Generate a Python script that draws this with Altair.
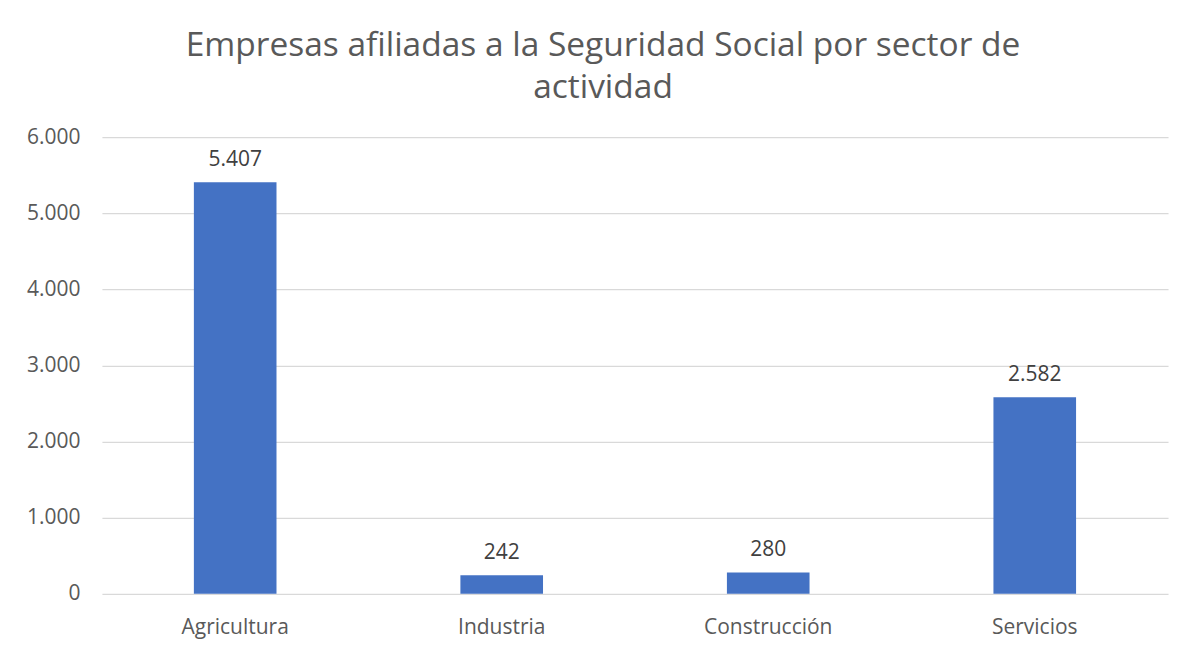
import altair as alt
import pandas as pd

sectors = ["Agricultura", "Industria", "Construcción", "Servicios"]
empresas = [5407, 242, 280, 2582]

df = pd.DataFrame({"sector": sectors, "empresas": empresas})

fmt = "replace(format(datum.value, ','), ',', '.')"
FONT = "Open Sans"
FS = 21

base = alt.Chart(df).encode(
    x=alt.X("sector:N", sort=sectors, title=None,
            scale=alt.Scale(paddingInner=0.69, paddingOuter=0.345),
            axis=alt.Axis(labelAngle=0, labelFontSize=FS, labelColor="#595959",
                          labelFont=FONT, ticks=False, domain=False,
                          labelPadding=23, grid=False)),
    y=alt.Y("empresas:Q", title=None,
            scale=alt.Scale(domain=[0, 6000], nice=False),
            axis=alt.Axis(values=[0, 1000, 2000, 3000, 4000, 5000, 6000],
                          labelExpr=fmt, labelFontSize=FS, labelColor="#595959",
                          labelFont=FONT, ticks=False, domain=False,
                          labelPadding=22, gridColor="#d9d9d9", gridWidth=1.3)),
)

bars = base.mark_bar(color="#4472C4")
labels = base.transform_calculate(
    lbl="replace(format(datum.empresas, ','), ',', '.')"
).mark_text(baseline="alphabetic", dy=-16, fontSize=FS, color="#404040",
            font=FONT).encode(text="lbl:N")

chart = (bars + labels).properties(
    width=1067, height=457,
    padding={"left": 94, "top": 129, "right": 20, "bottom": 60},
    autosize=alt.AutoSizeParams(type="none"),
    title=alt.Title(["Empresas afiliadas a la Seguridad Social por sector de", "actividad"],
                    font=FONT, fontSize=33.5, fontWeight="normal", color="#595959",
                    anchor="middle", dx=-32, offset=21, lineHeight=42),
).configure(background="white").configure_view(stroke=None)

chart.save("out.html", embed_options={"renderer": "svg", "actions": False})
